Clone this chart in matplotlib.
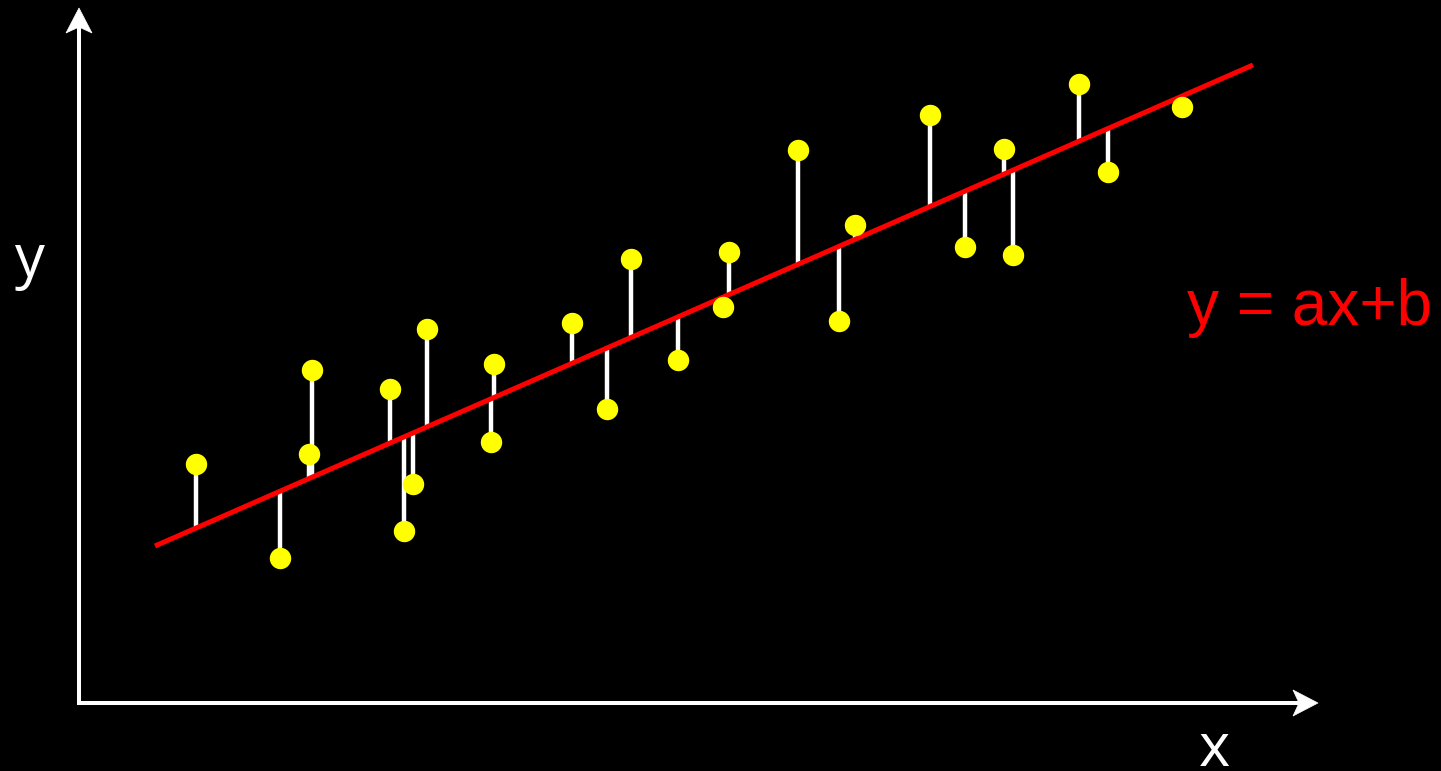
import numpy as np
import matplotlib
matplotlib.use("Agg")
import matplotlib.pyplot as plt
from matplotlib.patches import Polygon

# Observations (x, y) measured from the origin of the drawn axes
obs_x = [117, 201, 233, 230, 311, 325, 334, 348, 415, 412, 493, 528, 552,
         599, 650, 644, 719, 760, 776, 851, 886, 925, 934, 1000, 1029, 1103]
obs_y = [239, 145, 333, 249, 314, 172, 219, 374, 339, 261, 380, 294, 444,
         343, 451, 396, 553, 382, 478, 588, 456, 554, 448, 619, 531, 596]

# Fitted line y = a*x + b and the x-range over which it is drawn
slope_a = 0.43807
intercept_b = 123.7
fit_range = [76, 1174]

# Extent of the coordinate arrows
x_axis_end = 1239
y_axis_end = 695

W, H, DPI = 1441, 771, 100
fig = plt.figure(figsize=(W / DPI, H / DPI), dpi=DPI, facecolor="black")
ax = fig.add_axes([0, 0, 1, 1])
ax.set_facecolor("black")
ax.set_xlim(-79, W - 79)
ax.set_ylim(703 - H, 703)
ax.axis("off")

obs_x = np.asarray(obs_x, dtype=float)
obs_y = np.asarray(obs_y, dtype=float)
fit_at_obs = slope_a * obs_x + intercept_b

# residuals
ax.vlines(obs_x, obs_y, fit_at_obs, colors="white", linewidth=3.2, zorder=2)

# regression line
fx = np.asarray(fit_range, dtype=float)
ax.plot(fx, slope_a * fx + intercept_b, color="#ff0000", linewidth=3.6,
        solid_capstyle="butt", zorder=3)

# data points
ax.plot(obs_x, obs_y, linestyle="none", marker="o", markersize=14.4,
        markerfacecolor="#ffff00", markeredgecolor="#ffff00", zorder=4)


def arrow(direction, end):
    """Axis line with a notched arrow head, drawn in data units."""
    head_len, half_w, notch = 25, 13, 6
    if direction == "x":
        ax.plot([-2, end - head_len + notch], [0, 0], color="white",
                linewidth=2.9, solid_capstyle="butt", zorder=1)
        pts = [(end, 0), (end - head_len, half_w),
               (end - head_len + notch, 0), (end - head_len, -half_w)]
    else:
        ax.plot([0, 0], [-2, end - head_len + notch], color="white",
                linewidth=2.9, solid_capstyle="butt", zorder=1)
        pts = [(0, end), (half_w, end - head_len),
               (0, end - head_len + notch), (-half_w, end - head_len)]
    ax.add_patch(Polygon(pts, closed=True, facecolor="white",
                         edgecolor="white", linewidth=0.5, zorder=1))


arrow("x", x_axis_end)
arrow("y", y_axis_end)

ax.text(-49, 426, "y", color="white", fontsize=43, family="Open Sans",
        ha="center", va="baseline")
ax.text(1135.5, -63, "x", color="white", fontsize=43, family="Open Sans",
        ha="center", va="baseline")
ax.text(1108, 378, "y = ax+b", color="#ff0000", fontsize=46,
        family="Liberation Sans", ha="left", va="baseline")

fig.savefig("out.png", dpi=DPI, facecolor="black")
